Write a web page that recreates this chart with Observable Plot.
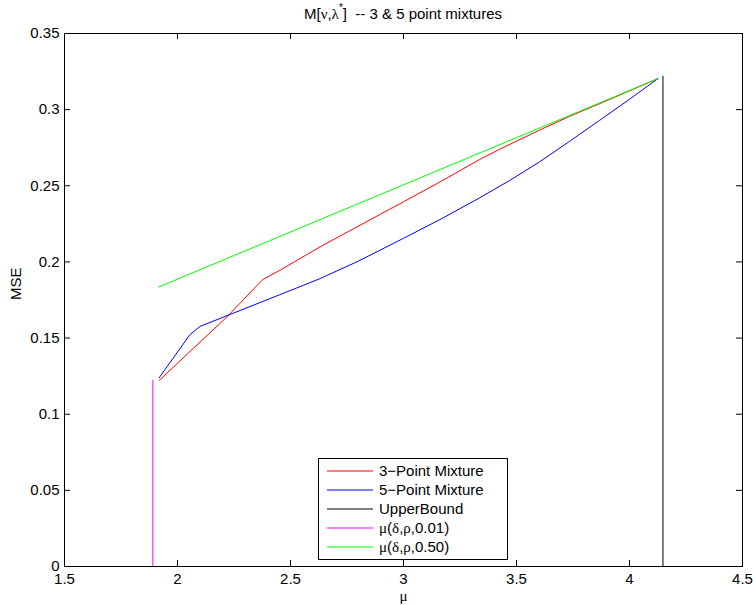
<!DOCTYPE html>
<html><head><meta charset="utf-8">
<script src="https://cdn.jsdelivr.net/npm/d3@7"></script>
<script src="https://cdn.jsdelivr.net/npm/@observablehq/plot@0.6"></script>
<style>
body{margin:0;background:#fff;}
#wrap{position:relative;width:753px;height:605px;font-family:"Liberation Sans",Arial,sans-serif;color:#000;}
#title{height:26px;box-sizing:border-box;padding:6px 11px 0 64px;text-align:center;font-size:15px;line-height:15px;white-space:pre;}
#title sup{font-size:10px;line-height:0;position:relative;top:-2px;vertical-align:super;}
.g{font-family:"Liberation Serif","Times New Roman",serif;}
#legend{position:absolute;left:318px;top:458px;width:190px;height:102px;box-sizing:border-box;border:1px solid #000;background:#fff;padding-top:2px;font-size:15px;}
#legend .row{display:flex;align-items:center;height:19px;}
#legend svg{margin-left:8px;margin-right:6px;}
svg{overflow:visible;}
</style></head><body>
<div id="wrap">
<div id="title">M[<span class="g">ν</span>,<span class="g">λ</span><sup>*</sup>]  -- 3 &amp; 5 point mixtures</div>
<div id="chart"></div>
<div id="legend"></div>
</div>
<script>
// 3-point mixture (red)
const mu3  = [1.919, 2.218, 2.377, 2.453, 2.630, 2.800, 3.000, 3.170, 3.336, 3.424, 3.601, 3.733, 3.866, 4.126];
const mse3 = [0.1222, 0.1638, 0.1884, 0.1945, 0.2098, 0.2235, 0.2395, 0.2532, 0.2672, 0.2739, 0.2865, 0.2955, 0.3038, 0.3204];
// 5-point mixture (blue)
const mu5  = [1.919, 2.056, 2.100, 2.453, 2.630, 2.800, 3.000, 3.170, 3.336, 3.470, 3.601, 3.730, 3.866, 4.000, 4.126];
const mse5 = [0.1240, 0.1524, 0.1577, 0.1785, 0.1890, 0.2005, 0.2155, 0.2285, 0.2420, 0.2535, 0.2656, 0.2787, 0.2928, 0.3068, 0.3204];
// Upper bound (black vertical)
const ubMu  = [4.148, 4.148];
const ubMse = [0, 0.322];
// mu(delta,rho,0.01) (magenta vertical)
const m01Mu  = [1.891, 1.891];
const m01Mse = [0, 0.1222];
// mu(delta,rho,0.50) (green)
const m50Mu  = [1.916, 4.126];
const m50Mse = [0.1835, 0.3204];

const xTicks = [1.5, 2, 2.5, 3, 3.5, 4, 4.5];
const yTicks = [0, 0.05, 0.1, 0.15, 0.2, 0.25, 0.3, 0.35];

const seriesNames = ["3\u2212Point Mixture", "5\u2212Point Mixture", "UpperBound", "μ(δ,ρ,0.01)", "μ(δ,ρ,0.50)"];
const seriesColors = ["#ff0000", "#0000ff", "#000000", "#ff00ff", "#00ff00"];

const toRows = (xs, ys) => xs.map((x, i) => ({x, y: ys[i]}));
const series = [toRows(mu3, mse3), toRows(mu5, mse5), toRows(ubMu, ubMse), toRows(m01Mu, m01Mse), toRows(m50Mu, m50Mse)];

const W = 753, H = 579, mL = 64, mR = 11, mT = 7, mB = 39;
const pw = W - mL - mR, ph = H - mT - mB, tk = 6;

const plot = Plot.plot({
  width: W, height: H,
  marginLeft: mL, marginRight: mR, marginTop: mT, marginBottom: mB,
  style: {fontFamily: "Liberation Sans, Arial, sans-serif", fontSize: "15px", background: "white", color: "black", overflow: "visible"},
  x: {domain: [1.5, 4.5]},
  y: {domain: [0, 0.35]},
  marks: [
    ...series.map((d, i) => Plot.line(d, {x: "x", y: "y", stroke: seriesColors[i], strokeWidth: 1})),
    Plot.tickX(xTicks, {x: d => d, insetTop: ph - tk, stroke: "black"}),
    Plot.tickX(xTicks, {x: d => d, insetBottom: ph - tk, stroke: "black"}),
    Plot.tickY(yTicks, {y: d => d, insetRight: pw - tk, stroke: "black"}),
    Plot.tickY(yTicks, {y: d => d, insetLeft: pw - tk, stroke: "black"}),
    Plot.frame({stroke: "black", strokeWidth: 1}),
    Plot.axisX({ticks: xTicks, tickSize: 0, tickPadding: 7, tickFormat: d => String(d), label: null}),
    Plot.axisY({ticks: yTicks, tickSize: 0, tickPadding: 5, tickFormat: d => String(d), label: null}),
    Plot.text(["μ"], {frameAnchor: "bottom", dy: 34, fontFamily: "Liberation Serif, serif", fontSize: 15}),
    Plot.text(["MSE"], {frameAnchor: "left", dx: -48, rotate: -90, fontSize: 15})
  ]
});
document.getElementById("chart").appendChild(plot);

const legend = document.getElementById("legend");
seriesNames.forEach((name, i) => {
  const row = document.createElement("div");
  row.className = "row";
  const greek = name.startsWith("μ");
  row.innerHTML = `<svg width="46" height="4"><line x1="0" x2="46" y1="2" y2="2" stroke="${seriesColors[i]}" stroke-width="1"/></svg>` +
    (greek ? `<span><span class="g">μ</span>(<span class="g">δ</span>,<span class="g">ρ</span>,${name.slice(name.lastIndexOf(",") + 1)}</span>` : `<span>${name}</span>`);
  legend.appendChild(row);
});
</script>
</body></html>
